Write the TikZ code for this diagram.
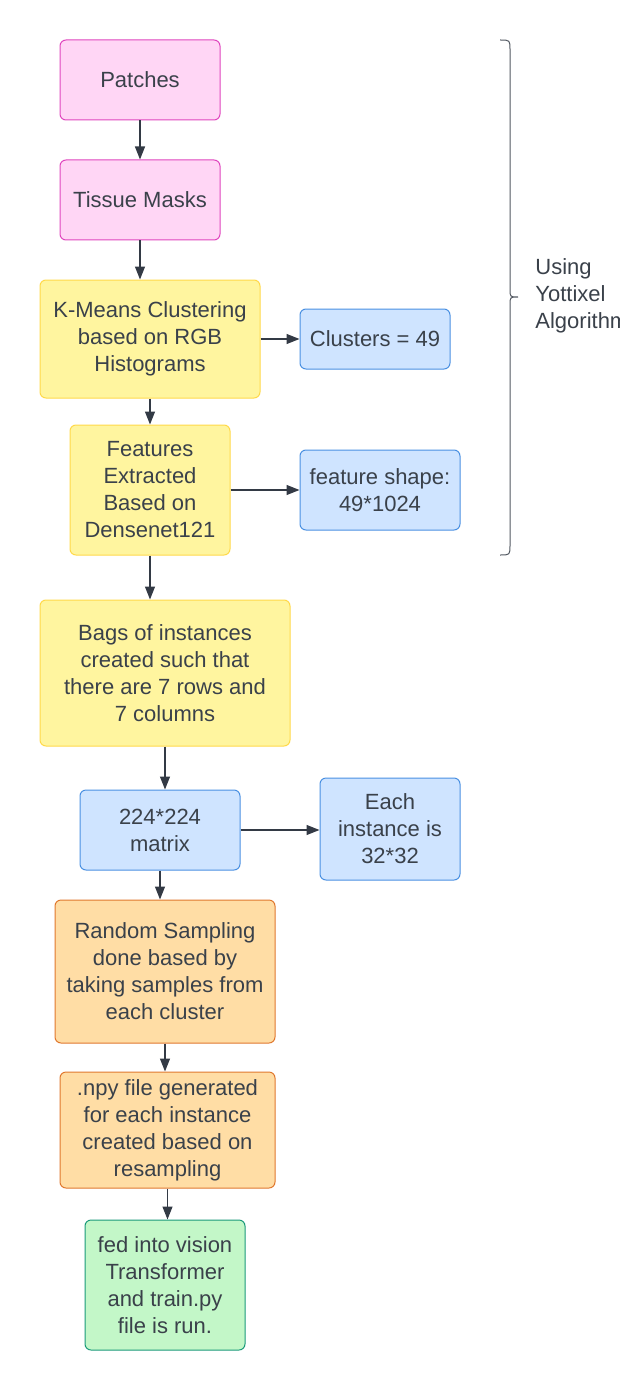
\documentclass[tikz,border=0pt]{standalone}
\usepackage{fontspec}
\setmainfont{Liberation Sans}
\usetikzlibrary{arrows.meta}
\definecolor{txt}{HTML}{3A414A}
\definecolor{arrowc}{HTML}{333A45}
\definecolor{pinkfill}{HTML}{FFD6F5}
\definecolor{pinkline}{HTML}{E046BE}
\definecolor{yellowfill}{HTML}{FFF59F}
\definecolor{yellowline}{HTML}{FFD94A}
\definecolor{bluefill}{HTML}{CFE4FF}
\definecolor{blueline}{HTML}{4A90E2}
\definecolor{orangefill}{HTML}{FFDDA5}
\definecolor{orangeline}{HTML}{E0782E}
\definecolor{greenfill}{HTML}{C3F7C8}
\definecolor{greenline}{HTML}{1A9A7A}
\begin{document}
\begin{tikzpicture}[x=0.5pt,y=-0.5pt,
  every node/.style={text=txt,font=\fontsize{11}{13.5}\selectfont,align=center,inner sep=0pt},
  box/.style={draw,line width=0.5pt,rounded corners=3pt},
  pinkbox/.style={box,fill=pinkfill,draw=pinkline},
  yellowbox/.style={box,fill=yellowfill,draw=yellowline},
  bluebox/.style={box,fill=bluefill,draw=blueline},
  orangebox/.style={box,fill=orangefill,draw=orangeline},
  greenbox/.style={box,fill=greenfill,draw=greenline},
  link/.style={draw=arrowc,line width=0.65pt,-{Triangle[length=6.5pt,width=5pt]}}]
  \useasboundingbox (0,0) rectangle (620,1391);
  % main column
  \node [pinkbox,minimum width=80pt,minimum height=40pt] (patch) at (140,80) {Patches};
  \node [pinkbox,minimum width=80pt,minimum height=40pt] (mask) at (140,200) {Tissue Masks};
  \node [yellowbox,minimum width=110pt,minimum height=59pt] (kmeans) at (150,339) {K-Means Clustering\\based on RGB\\Histograms};
  \node [yellowbox,minimum width=80pt,minimum height=65pt] (feat) at (150,490) {Features\\Extracted\\Based on\\Densenet121};
  \node [yellowbox,minimum width=125pt,minimum height=73pt] (bags) at (165,673) {Bags of instances\\created such that\\there are 7 rows and\\7 columns};
  \node [bluebox,minimum width=80pt,minimum height=40pt] (matrix) at (160,830) {224*224\\matrix};
  \node [orangebox,minimum width=110pt,minimum height=71.5pt] (sample) at (165,971.5) {Random Sampling\\done based by\\taking samples from\\each cluster};
  \node [orangebox,minimum width=107.5pt,minimum height=58pt] (npy) at (167.5,1130) {.npy file generated\\for each instance\\created based on\\resampling};
  \node [greenbox,minimum width=80pt,minimum height=65pt] (vit) at (165,1285) {fed into vision\\Transformer\\and train.py\\file is run.};
  % side notes
  \node [bluebox,minimum width=75pt,minimum height=30pt] (clus) at (375,339) {Clusters = 49};
  \node [bluebox,minimum width=80pt,minimum height=40pt] (shape) at (380,490) {feature shape:\\49*1024};
  \node [bluebox,minimum width=70pt,minimum height=51pt] (inst) at (390,829) {Each\\instance is\\32*32};
  % arrows
  \draw [link] (patch.south) -- (patch.south |- mask.north);
  \draw [link] (mask.south) -- (mask.south |- kmeans.north);
  \draw [link] (kmeans.south) -- (kmeans.south |- feat.north);
  \draw [link] (feat.south) -- (feat.south |- bags.north);
  \draw [link] (bags.south) -- (bags.south |- matrix.north);
  \draw [link] (matrix.south) -- (matrix.south |- sample.north);
  \draw [link] (sample.south) -- (sample.south |- npy.north);
  \draw [link] (npy.south) -- (npy.south |- vit.north);
  \draw [link] (kmeans.east) -- (kmeans.east -| clus.west);
  \draw [link] (feat.east) -- (feat.east -| shape.west);
  \draw [link] (matrix.east) -- (matrix.east -| inst.west);
  % brace
  \draw [draw=arrowc!85,line width=0.5pt] (500,40) .. controls (510,40) .. (510,50) -- (510,289) .. controls (510,297) .. (518,297) .. controls (510,297) .. (510,305) -- (510,545) .. controls (510,555) .. (500,555);
  \node [align=left,anchor=west] (algo) at (535,296) {Using\\Yottixel\\Algorithm};
\end{tikzpicture}
\end{document}
